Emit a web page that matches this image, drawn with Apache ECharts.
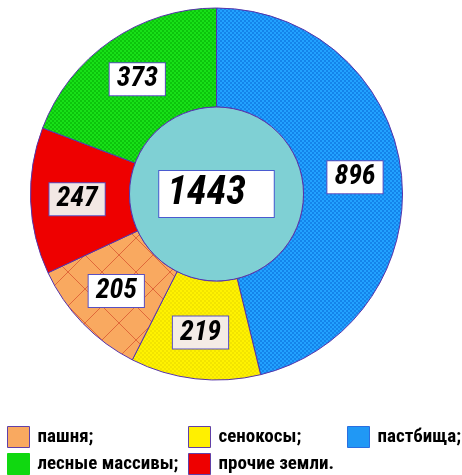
<!DOCTYPE html>
<html><head><meta charset="utf-8">
<script src="https://cdn.jsdelivr.net/npm/echarts@6/dist/echarts.min.js"></script>
<style>html,body{margin:0;padding:0;background:#fff}#c{width:462px;height:475px}</style>
</head><body><div id="c"></div>
<script>
var categories = ['пастбища;', 'сенокосы;', 'пашня;', 'прочие земли.', 'лесные массивы;'];
var values = [896, 219, 205, 247, 373];
var centerValue = 1443;
var legendCol1 = ['пашня;', 'лесные массивы;'];
var legendCol2 = ['сенокосы;', 'прочие земли.'];
var legendCol3 = ['пастбища;'];

function checker(base, dark, cell) {
  var c = document.createElement('canvas');
  c.width = cell * 2; c.height = cell * 2;
  var g = c.getContext('2d');
  g.fillStyle = base; g.fillRect(0, 0, c.width, c.height);
  g.fillStyle = dark; g.fillRect(0, 0, cell, cell); g.fillRect(cell, cell, cell, cell);
  return c;
}
function diamond(base, line, size) {
  var c = document.createElement('canvas');
  c.width = size; c.height = size;
  var g = c.getContext('2d');
  g.fillStyle = base; g.fillRect(0, 0, size, size);
  g.strokeStyle = line; g.lineWidth = 1;
  g.beginPath(); g.moveTo(0, 0); g.lineTo(size, size); g.moveTo(size, 0); g.lineTo(0, size); g.stroke();
  return c;
}
var fills = {
  'пастбища;': {image: checker('#22a2ff', '#1484ea', 2), repeat: 'repeat'},
  'сенокосы;': {image: checker('#fff200', '#f2e400', 2), repeat: 'repeat'},
  'пашня;': {image: diamond('#f9a960', '#e0683a', 34), repeat: 'repeat'},
  'прочие земли.': '#ee0000',
  'лесные массивы;': {image: checker('#18e018', '#0cc40c', 2), repeat: 'repeat'}
};
var labelBg = {
  'сенокосы;': '#f4ece6',
  'прочие земли.': '#f2e8e4'
};
var legendColors = {
  'пастбища;': '#2098f5', 'сенокосы;': '#fff000', 'пашня;': '#f9a960',
  'прочие земли.': '#ee0000', 'лесные массивы;': '#10d810'
};
var legendBorders = {
  'пастбища;': '#2a6ee0', 'сенокосы;': '#6040a8', 'пашня;': '#6040a8',
  'прочие земли.': '#6040a8', 'лесные массивы;': '#10d810'
};
var FONT = '"Roboto Condensed", "DejaVu Sans Condensed", sans-serif';

var chart = echarts.init(document.getElementById('c'), null, {renderer: 'canvas'});

function legendAt(names, left) {
  return {
    data: names.map(function (n) {
      return {name: n, itemStyle: {color: legendColors[n], borderColor: legendBorders[n], borderWidth: 1}};
    }),
    orient: 'vertical', left: left, top: 426, padding: 0,
    itemWidth: 22, itemHeight: 21, itemGap: 5, icon: 'rect',
    selectedMode: false,
    textStyle: {fontFamily: FONT, fontWeight: 'bold', fontSize: 19, color: '#000', padding: [0, 0, 0, 3]}
  };
}

chart.setOption({
  animation: false,
  legend: [legendAt(legendCol1, 7), legendAt(legendCol2, 188), legendAt(legendCol3, 347)],
  series: [
    {
      type: 'pie', center: [216.5, 194], radius: [87, 186],
      startAngle: 90, clockwise: true, silent: true,
      data: categories.map(function (n, i) {
        var d = {name: n, value: values[i], itemStyle: {color: fills[n], borderColor: '#5533aa', borderWidth: 1}};
        if (labelBg[n]) d.label = {backgroundColor: labelBg[n]};
        return d;
      }),
      label: {
        show: true, position: 'inside', formatter: '{c}',
        fontFamily: FONT, fontWeight: 'bold', fontStyle: 'italic', fontSize: 28, color: '#000',
        backgroundColor: '#fff', borderColor: '#5a50c0', borderWidth: 1, padding: [3, 7, 1, 7]
      },
      labelLine: {show: false}
    },
    {
      type: 'pie', center: [216.5, 194], radius: [0, 87], silent: true,
      data: [{name: 'total', value: centerValue, itemStyle: {color: '#7fd0d4', borderColor: '#5533aa', borderWidth: 1}}],
      label: {
        show: true, position: 'center', formatter: '{c}',
        fontFamily: FONT, fontWeight: 'bold', fontStyle: 'italic', fontSize: 40, color: '#000',
        backgroundColor: '#fff', borderColor: '#4a5ad0', borderWidth: 1, padding: [4, 28, 2, 8]
      },
      labelLine: {show: false}
    }
  ]
});
</script></body></html>
